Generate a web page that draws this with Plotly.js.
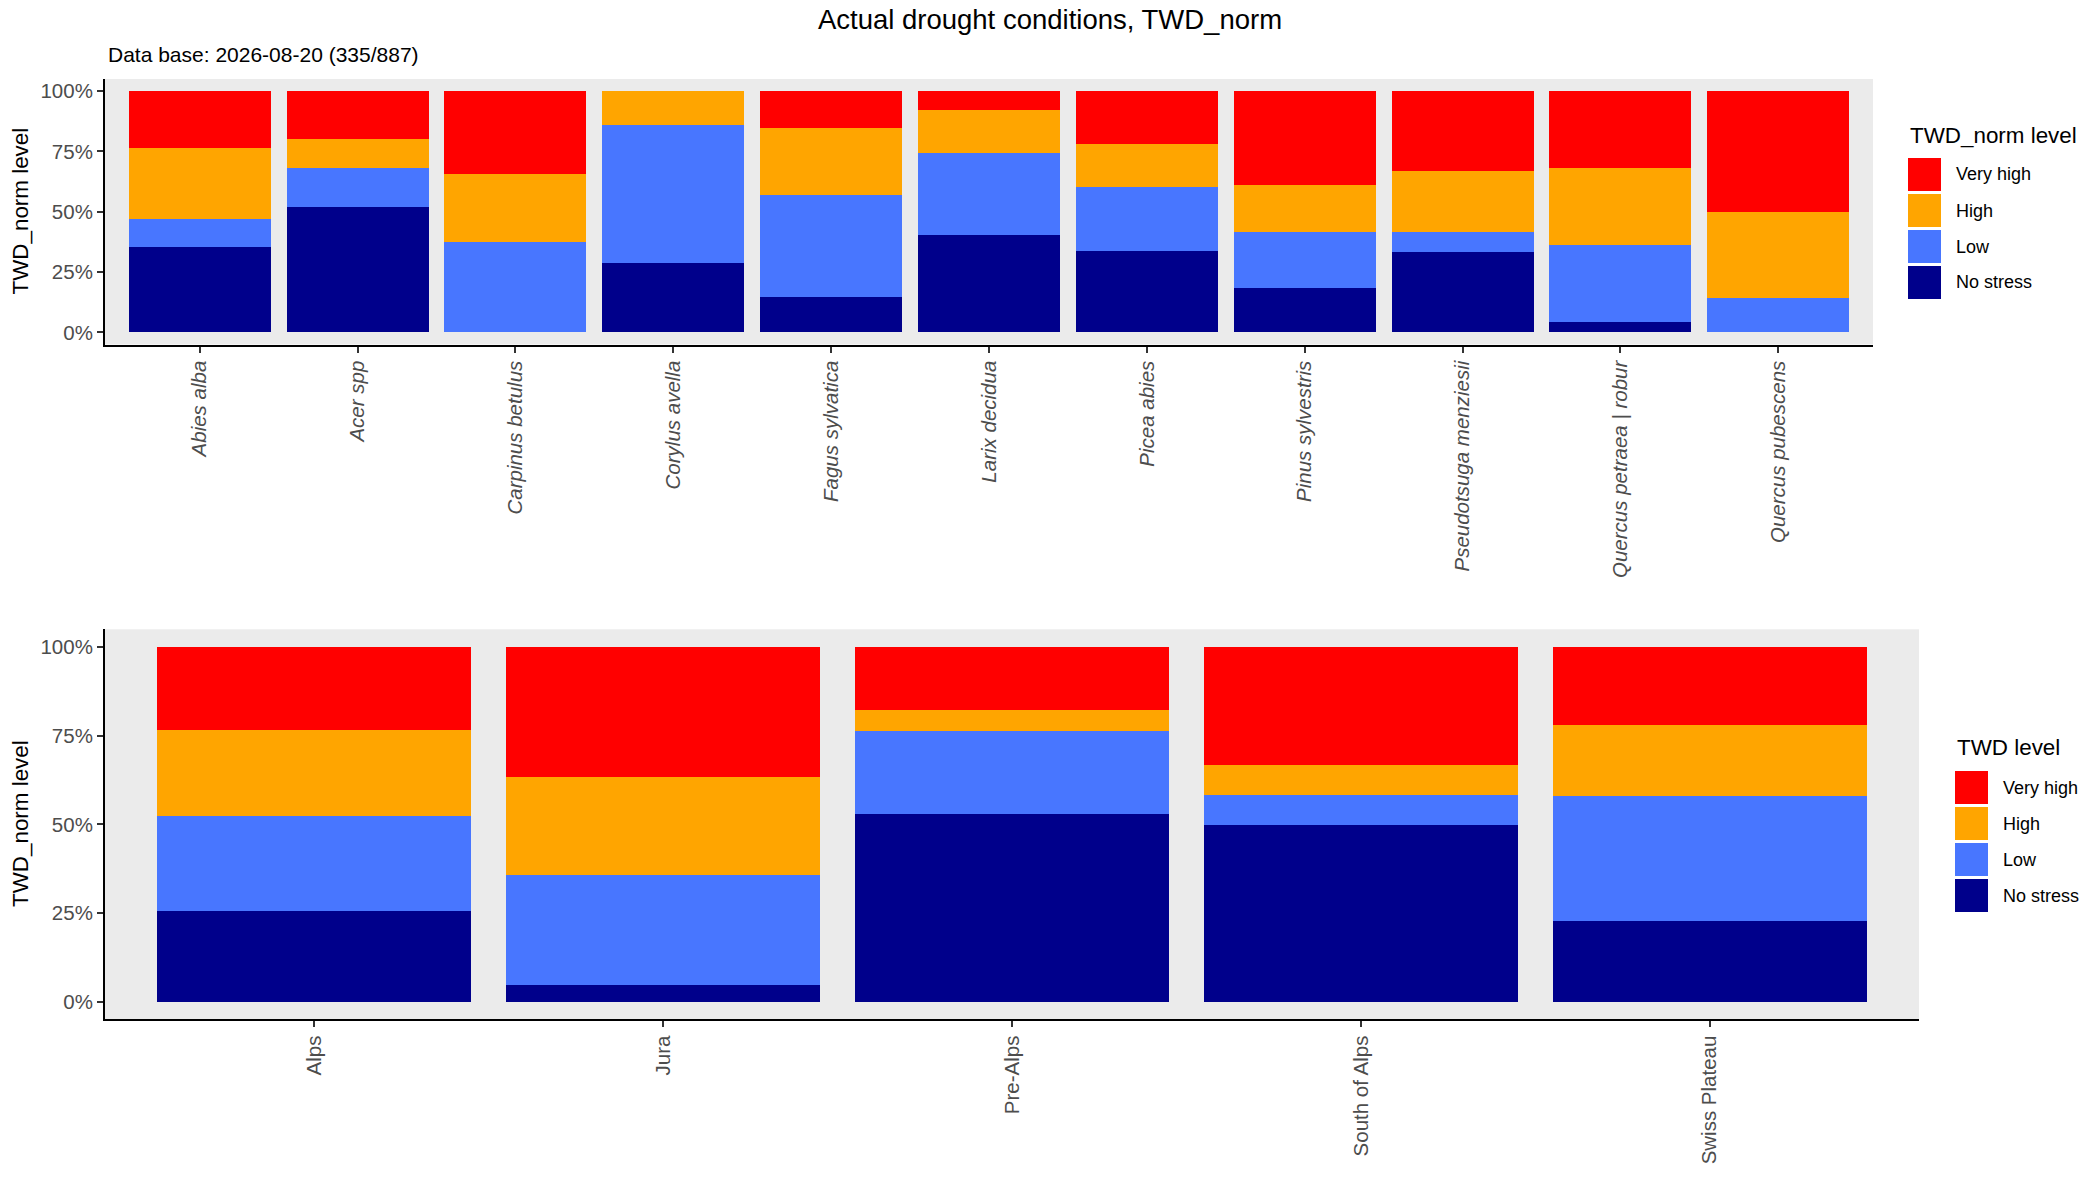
<!DOCTYPE html>
<html>
<head>
<meta charset="utf-8">
<script src="https://cdn.plot.ly/plotly-3.0.1.min.js"></script>
<style>
    html, body { margin: 0; padding: 0; background: #fff; }
    #chart { width: 2100px; height: 1200px; }
</style>
</head>
<body>
<div id="chart"></div>
<script>
// Drought level shares (%)

const levels = ['No stress', 'Low', 'High', 'Very high'];
const levelColors = ['#00008B', '#4876FF', '#FFA500', '#FF0000'];

const species = [
    'Abies alba', 'Acer spp', 'Carpinus betulus', 'Corylus avella',
    'Fagus sylvatica', 'Larix decidua', 'Picea abies', 'Pinus sylvestris',
    'Pseudotsuga menziesii', 'Quercus petraea | robur', 'Quercus pubescens'
];
const speciesNoStress = [35.5, 51.9, 0, 28.7, 14.8, 40.3, 33.7, 18.4, 33.3, 4.4, 0];
const speciesLow      = [11.5, 16.2, 37.4, 57.2, 42.1, 34.0, 26.5, 23.2, 8.3, 31.9, 14.3];
const speciesHigh     = [29.4, 12.0, 28.2, 14.1, 27.8, 17.8, 17.8, 19.4, 25.3, 31.8, 35.7];
const speciesVeryHigh = [23.6, 19.9, 34.4, 0, 15.3, 7.9, 22.0, 39.0, 33.1, 31.9, 50.0];

const regions = ['Alps', 'Jura', 'Pre-Alps', 'South of Alps', 'Swiss Plateau'];
const regionNoStress = [25.6, 4.7, 53.0, 49.8, 22.7];
const regionLow      = [26.7, 31.0, 23.3, 8.6, 35.3];
const regionHigh     = [24.3, 27.6, 5.9, 8.3, 20.0];
const regionVeryHigh = [23.4, 36.7, 17.8, 33.3, 22.0];

const yTicks = [0, 25, 50, 75, 100];
const yTickLabels = ['0%', '25%', '50%', '75%', '100%'];

const chartTitle = 'Actual drought conditions, TWD_norm';
const chartSubtitle = 'Data base: 2026-08-20 (335/887)';
const yTitle = 'TWD_norm level';
const topLegendTitle = 'TWD_norm level';
const bottomLegendTitle = 'TWD level';

// --- page geometry (pixels) ---
const W = 2100, H = 1200;
const FONT = 'Liberation Sans, Arial, Helvetica, sans-serif';
const px = x => x / W;
const py = y => 1 - y / H;

function barTraces(cats, series, xa, ya) {
    return series.map((vals, i) => ({
        type: 'bar',
        x: cats,
        y: vals,
        name: levels[i],
        xaxis: xa,
        yaxis: ya,
        marker: { color: levelColors[i], line: { width: 0 } },
        hoverinfo: 'x+y+name'
    }));
}

function xAxis(domain, cats, yanchor, italic) {
    return {
        domain: domain,
        anchor: yanchor,
        type: 'category',
        range: [-0.6, cats.length - 0.4],
        showline: true, linecolor: '#000', linewidth: 2,
        ticks: 'outside', ticklen: 6, tickwidth: 1.5, tickcolor: '#333',
        tickangle: -90,
        tickfont: { family: FONT, size: 20.5, color: '#4D4D4D', style: italic ? 'italic' : 'normal' },
        showgrid: false, zeroline: false, fixedrange: true
    };
}

function yAxis(domain, xanchor) {
    return {
        domain: domain,
        anchor: xanchor,
        range: [-5, 105],
        tickmode: 'array',
        tickvals: yTicks,
        ticktext: yTickLabels,
        showline: true, linecolor: '#000', linewidth: 2,
        ticks: 'outside', ticklen: 6, tickwidth: 1.5, tickcolor: '#333',
        tickfont: { family: FONT, size: 20.5, color: '#4D4D4D' },
        showgrid: false, zeroline: false, fixedrange: true
    };
}

// legend drawn as keys + labels, ggplot style
function legendBits(title, left, titleY, firstKeyTop) {
    const shapes = [];
    const notes = [{
        text: title, xref: 'paper', yref: 'paper',
        x: px(left), y: py(titleY), xanchor: 'left', yanchor: 'middle',
        showarrow: false, font: { family: FONT, size: 22.4, color: '#000' }
    }];
    // top-to-bottom: Very high ... No stress
    const order = levels.map((_, i) => levels.length - 1 - i);
    order.forEach((li, k) => {
        const top = firstKeyTop + k * 36;
        shapes.push({
            type: 'rect', xref: 'paper', yref: 'paper',
            x0: px(left), x1: px(left + 33), y0: py(top + 33), y1: py(top),
            fillcolor: levelColors[li], line: { width: 0 }
        });
        notes.push({
            text: levels[li], xref: 'paper', yref: 'paper',
            x: px(left + 46), y: py(top + 16.5), xanchor: 'left', yanchor: 'middle',
            showarrow: false, font: { family: FONT, size: 18, color: '#000' }
        });
    });
    return { shapes, notes };
}

const topSeries = [speciesNoStress, speciesLow, speciesHigh, speciesVeryHigh];
const bottomSeries = [regionNoStress, regionLow, regionHigh, regionVeryHigh];

const traces = [
    ...barTraces(species, topSeries, 'x', 'y'),
    ...barTraces(regions, bottomSeries, 'x2', 'y2')
];

const topLegend = legendBits(topLegendTitle, 1908, 135, 158);
const bottomLegend = legendBits(bottomLegendTitle, 1955, 747, 771);

const annotations = [
    {
        text: chartSubtitle, xref: 'paper', yref: 'paper',
        x: px(106), y: py(55), xanchor: 'left', yanchor: 'middle',
        showarrow: false, font: { family: FONT, size: 21, color: '#000' }
    },
    {
        text: yTitle, xref: 'paper', yref: 'paper', textangle: -90,
        x: px(20), y: py(211.5), xanchor: 'center', yanchor: 'middle',
        showarrow: false, font: { family: FONT, size: 22.4, color: '#000' }
    },
    {
        text: yTitle, xref: 'paper', yref: 'paper', textangle: -90,
        x: px(20), y: py(824), xanchor: 'center', yanchor: 'middle',
        showarrow: false, font: { family: FONT, size: 22.4, color: '#000' }
    },
    ...topLegend.notes,
    ...bottomLegend.notes
];

const layout = {
    width: W,
    height: H,
    margin: { l: 0, r: 0, t: 0, b: 0 },
    title: {
        text: chartTitle,
        x: 0.5, xref: 'paper', xanchor: 'center',
        y: py(19), yref: 'container', yanchor: 'middle',
        font: { family: FONT, size: 27.5, color: '#000' }
    },
    paper_bgcolor: '#fff',
    plot_bgcolor: '#EBEBEB',
    barmode: 'stack',
    bargap: 0.1,
    showlegend: false,
    font: { family: FONT, color: '#000' },
    xaxis: xAxis([px(105), px(1873)], species, 'y', true),
    yaxis: yAxis([py(344.5), py(79)], 'x'),
    xaxis2: xAxis([px(105), px(1919)], regions, 'y2', false),
    yaxis2: yAxis([py(1019.4), py(629.3)], 'x2'),
    shapes: [...topLegend.shapes, ...bottomLegend.shapes],
    annotations: annotations
};

Plotly.newPlot('chart', traces, layout, { displayModeBar: false, responsive: false });
</script>
</body>
</html>
